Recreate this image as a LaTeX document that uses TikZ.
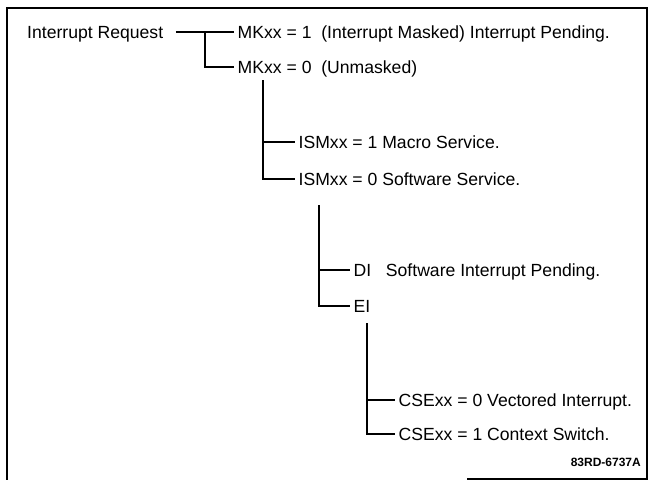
\documentclass[tikz,border=0pt]{standalone}
\usepackage{fontspec}
\setmainfont{Liberation Sans}
\usetikzlibrary{positioning,calc}
\tikzset{
    treelabel/.style={anchor=west, inner xsep=3.5pt, inner ysep=0pt,
        text height=12.7pt, text depth=0pt, font=\fontsize{17.6}{21}\selectfont},
    treeline/.style={line width=1.5pt},
    framepen/.style={line width=1.6pt}
}

\begin{document}
\begin{tikzpicture}[x=1pt, y=-1pt]
\useasboundingbox (0,0) rectangle (650,480);
\draw[framepen] (467,479) -- (647,479) -- (647,8) -- (7,8) -- (7,480);
% mask level
\node[treelabel] (ireq) at (23.5,32) {Interrupt Request};
\node[treelabel] (mkone) at (234,32) {MKxx = 1\ \ (Interrupt Masked) Interrupt Pending.};
\node[treelabel] (mkzero) at (234,67) {MKxx = 0\ \ (Unmasked)};
% service level
\node[treelabel] (ismone) at (295,142) {ISMxx = 1 Macro Service.};
\node[treelabel] (ismzero) at (295,179) {ISMxx = 0 Software Service.};
% interrupt enable level
\node[treelabel] (di) at (350,270) {DI\ \ \ Software Interrupt Pending.};
\node[treelabel] (ei) at (350,306) {EI};
% context switch level
\node[treelabel] (csezero) at (395,400) {CSExx = 0 Vectored Interrupt.};
\node[treelabel] (cseone) at (395,434) {CSExx = 1 Context Switch.};
\node[anchor=east, inner sep=0pt, font=\bfseries\fontsize{12}{14}\selectfont] (figid) at (641,462) {83RD-6737A};
\coordinate (jmk) at (205,32);
\coordinate (jism) at (263,80);
\coordinate (jint) at (319,205);
\coordinate (jcse) at (367,323);
\draw[treeline] ([xshift=9pt]ireq.east) -- (mkone.west);
\draw[treeline] (jmk) |- (mkzero.west);
\draw[treeline] (jism) |- (ismone.west);
\draw[treeline] (jism) |- (ismzero.west);
\draw[treeline] (jint) |- (di.west);
\draw[treeline] (jint) |- (ei.west);
\draw[treeline] (jcse) |- (csezero.west);
\draw[treeline] (jcse) |- (cseone.west);
\end{tikzpicture}
\end{document}
